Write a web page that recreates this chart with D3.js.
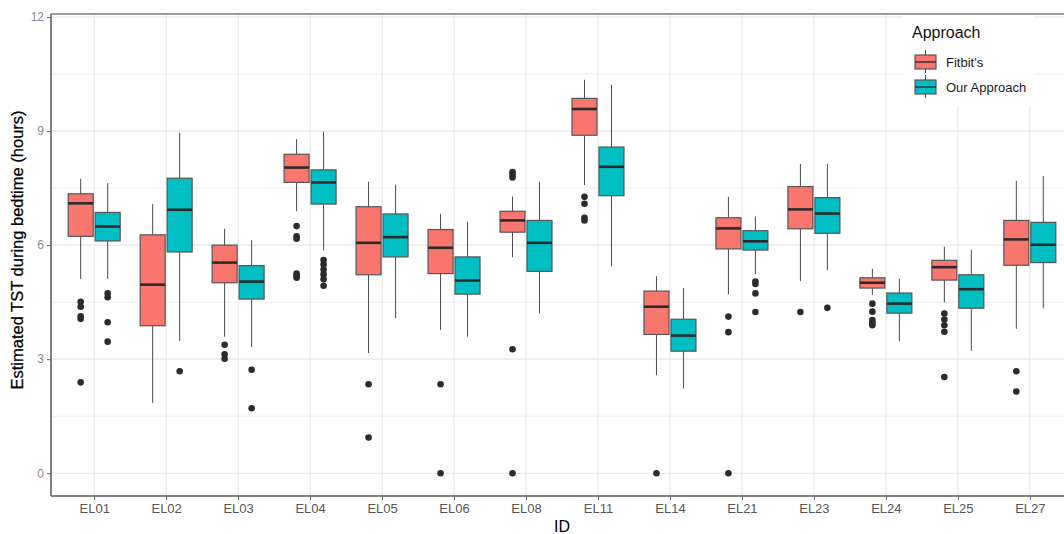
<!DOCTYPE html>
<html>
<head>
<meta charset="utf-8">
<script src="https://cdn.jsdelivr.net/npm/d3@7"></script>
<style>
  html, body { margin: 0; padding: 0; background: #fff; }
  svg { display: block; font-family: "Liberation Sans", Arial, sans-serif; }
</style>
</head>
<body>
<svg id="chart" width="1064" height="534"></svg>
<script>
// Participant IDs along the x axis
const ids = ["EL01","EL02","EL03","EL04","EL05","EL06","EL08","EL11","EL14","EL21","EL23","EL24","EL25","EL27"];
const approaches = ["Fitbit's", "Our Approach"];
const approachColors = ["#F8766D", "#00BFC4"];

// Five-number summaries per ID: [lower whisker, Q1, median, Q3, upper whisker] (hours)
const fitbitBoxes = [
  [5.11, 6.23, 7.10, 7.35, 7.75],
  [1.85, 3.88, 4.96, 6.27, 7.08],
  [3.59, 5.01, 5.54, 6.00, 6.43],
  [6.89, 7.65, 8.04, 8.39, 8.79],
  [3.16, 5.22, 6.06, 7.01, 7.67],
  [3.77, 5.25, 5.93, 6.41, 6.82],
  [5.68, 6.34, 6.65, 6.89, 7.28],
  [7.58, 8.89, 9.58, 9.86, 10.35],
  [2.58, 3.65, 4.38, 4.79, 5.18],
  [4.70, 5.90, 6.44, 6.72, 7.27],
  [5.05, 6.43, 6.94, 7.54, 8.14],
  [4.69, 4.87, 5.01, 5.14, 5.38],
  [4.49, 5.08, 5.42, 5.60, 5.96],
  [3.80, 5.47, 6.15, 6.65, 7.69]
];
const ourBoxes = [
  [5.11, 6.11, 6.49, 6.86, 7.63],
  [3.48, 5.82, 6.93, 7.76, 8.96],
  [3.32, 4.58, 5.04, 5.46, 6.13],
  [5.86, 7.08, 7.65, 7.98, 8.98],
  [4.08, 5.69, 6.21, 6.82, 7.59],
  [3.59, 4.71, 5.07, 5.69, 6.61],
  [4.20, 5.31, 6.06, 6.65, 7.67],
  [5.44, 7.30, 8.06, 8.58, 10.22],
  [2.23, 3.21, 3.62, 4.05, 4.87],
  [5.24, 5.87, 6.10, 6.38, 6.75],
  [5.34, 6.31, 6.83, 7.25, 8.14],
  [3.47, 4.21, 4.46, 4.74, 5.11],
  [3.22, 4.34, 4.84, 5.22, 5.88],
  [4.34, 5.54, 6.01, 6.60, 7.82]
];

// Outlying nights per ID
const fitbitOutliers = [
  [4.51, 4.38, 4.13, 4.06, 2.39],
  [],
  [3.38, 3.13, 3.01],
  [6.50, 6.23, 6.17, 5.25, 5.19, 5.14],
  [2.34, 0.94],
  [2.34, 0.0],
  [7.92, 7.85, 7.78, 3.26, 0.0],
  [7.27, 7.09, 6.72, 6.65],
  [0.0],
  [4.12, 3.71, 0.0],
  [4.24],
  [4.46, 4.25, 4.03, 3.96, 3.89],
  [4.20, 4.04, 3.89, 3.72, 2.53],
  [2.68, 2.15]
];
const ourOutliers = [
  [4.73, 4.63, 3.97, 3.46],
  [2.68],
  [2.72, 1.71],
  [5.61, 5.49, 5.36, 5.23, 5.10, 4.93],
  [],
  [],
  [],
  [],
  [],
  [5.04, 4.98, 4.73, 4.24],
  [4.35],
  [],
  [],
  []
];

const yTicks = [0, 3, 6, 9, 12];
const yMinorTicks = [1.5, 4.5, 7.5, 10.5];

const boxSeries = [fitbitBoxes, ourBoxes];
const outlierSeries = [fitbitOutliers, ourOutliers];

const svg = d3.select("#chart");
const panel = { left: 51, right: 1073, top: 14, bottom: 496 };

const x = d3.scalePoint().domain(ids).range([panel.left, panel.right]).padding(0.6);
const step = x.step();
const xDodge = d3.scaleBand().domain(approaches).range([-0.375 * step, 0.375 * step]);
const boxW = xDodge.bandwidth() - 2;
const y = d3.scaleLinear().domain([-0.6, 12.08]).range([panel.bottom, panel.top]);

svg.append("defs").append("clipPath").attr("id", "panel-clip")
  .append("rect")
  .attr("x", panel.left).attr("y", panel.top)
  .attr("width", panel.right - panel.left).attr("height", panel.bottom - panel.top);

// Grid lines
const grid = svg.append("g").attr("clip-path", "url(#panel-clip)");
grid.selectAll("line.minor").data(yMinorTicks).join("line")
  .attr("x1", panel.left).attr("x2", panel.right)
  .attr("y1", d => y(d)).attr("y2", d => y(d))
  .attr("stroke", "#f0f0f0").attr("stroke-width", 1);
grid.selectAll("line.majory").data(yTicks).join("line")
  .attr("x1", panel.left).attr("x2", panel.right)
  .attr("y1", d => y(d)).attr("y2", d => y(d))
  .attr("stroke", "#e6e6e6").attr("stroke-width", 1.1);
grid.selectAll("line.majorx").data(ids).join("line")
  .attr("x1", d => x(d)).attr("x2", d => x(d))
  .attr("y1", panel.top).attr("y2", panel.bottom)
  .attr("stroke", "#e6e6e6").attr("stroke-width", 1.1);

// Boxplots
const marks = svg.append("g");
approaches.forEach((ap, ai) => {
  const g = marks.append("g");
  const boxes = boxSeries[ai];
  ids.forEach((id, i) => {
    const [lo, q1, med, q3, hi] = boxes[i];
    const cx = x(id) + xDodge(ap) + xDodge.bandwidth() / 2;
    g.append("line")
      .attr("x1", cx).attr("x2", cx).attr("y1", y(hi)).attr("y2", y(q3))
      .attr("stroke", "#4a4a4a").attr("stroke-width", 1);
    g.append("line")
      .attr("x1", cx).attr("x2", cx).attr("y1", y(q1)).attr("y2", y(lo))
      .attr("stroke", "#4a4a4a").attr("stroke-width", 1);
    g.append("rect")
      .attr("x", cx - boxW / 2).attr("width", boxW)
      .attr("y", y(q3)).attr("height", y(q1) - y(q3))
      .attr("fill", approachColors[ai])
      .attr("stroke", "#555").attr("stroke-width", 1.2);
    g.append("line")
      .attr("x1", cx - boxW / 2).attr("x2", cx + boxW / 2)
      .attr("y1", y(med)).attr("y2", y(med))
      .attr("stroke", "#2b2b2b").attr("stroke-width", 2.6);
    g.selectAll("circle.o" + i).data(outlierSeries[ai][i]).join("circle")
      .attr("cx", cx).attr("cy", d => y(d)).attr("r", 3.3)
      .attr("fill", "#2b2b2b");
  });
});

// Legend (inside panel, top right)
const legend = svg.append("g");
legend.append("rect")
  .attr("x", 903).attr("y", 15).attr("width", 132).attr("height", 91)
  .attr("fill", "#fff");
legend.append("text")
  .attr("x", 912).attr("y", 38)
  .attr("font-size", 16).attr("fill", "#111")
  .text("Approach");
approaches.forEach((ap, ai) => {
  const ky = 55 + ai * 25;
  const kx = 915;
  legend.append("line")
    .attr("x1", kx + 10.5).attr("x2", kx + 10.5)
    .attr("y1", ky - 5).attr("y2", ky + 18)
    .attr("stroke", "#4a4a4a").attr("stroke-width", 1);
  legend.append("rect")
    .attr("x", kx).attr("y", ky).attr("width", 21).attr("height", 14)
    .attr("fill", approachColors[ai]).attr("stroke", "#555").attr("stroke-width", 1.2);
  legend.append("line")
    .attr("x1", kx).attr("x2", kx + 21)
    .attr("y1", ky + 7).attr("y2", ky + 7)
    .attr("stroke", "#2b2b2b").attr("stroke-width", 1.4);
  legend.append("text")
    .attr("x", 946).attr("y", ky + 7).attr("dy", "0.35em")
    .attr("font-size", 13).attr("fill", "#1a1a1a")
    .text(ap);
});

// Panel border
svg.append("line").attr("x1", panel.left).attr("x2", panel.right)
  .attr("y1", panel.top).attr("y2", panel.top)
  .attr("stroke", "#7a7a7a").attr("stroke-width", 1.3);
svg.append("line").attr("x1", panel.right).attr("x2", panel.right)
  .attr("y1", panel.top).attr("y2", panel.bottom)
  .attr("stroke", "#7a7a7a").attr("stroke-width", 1.3);

// Axes
const yAxis = svg.append("g")
  .attr("transform", `translate(${panel.left},0)`)
  .call(d3.axisLeft(y).tickValues(yTicks).tickSize(4).tickPadding(3));
const xAxis = svg.append("g")
  .attr("transform", `translate(0,${panel.bottom})`)
  .call(d3.axisBottom(x).tickSize(4).tickPadding(4));

[yAxis, xAxis].forEach(ax => {
  ax.select(".domain").attr("stroke", "#808080").attr("stroke-width", 2);
  ax.selectAll(".tick line").attr("stroke", "#666");
  ax.selectAll(".tick text")
    .attr("font-family", "'Liberation Sans', Arial, sans-serif");
});
yAxis.selectAll(".tick text").attr("fill", "#8a8a8a").attr("font-size", 12);
xAxis.selectAll(".tick text").attr("fill", "#555").attr("font-size", 13);
yAxis.select(".domain").attr("d", `M0,${panel.top}V${panel.bottom}`);
xAxis.select(".domain").attr("d", `M${panel.left},0H${panel.right}`);

// Axis titles
svg.append("text")
  .attr("transform", `translate(23,${(panel.top + panel.bottom) / 2 - 5}) rotate(-90)`)
  .attr("text-anchor", "middle")
  .attr("font-size", 16.5).attr("fill", "#000")
  .attr("stroke", "#000").attr("stroke-width", 0.25)
  .text("Estimated TST during bedtime (hours)");
svg.append("text")
  .attr("x", (panel.left + panel.right) / 2).attr("y", 532)
  .attr("text-anchor", "middle")
  .attr("font-size", 16).attr("fill", "#000")
  .text("ID");
</script>
</body>
</html>
